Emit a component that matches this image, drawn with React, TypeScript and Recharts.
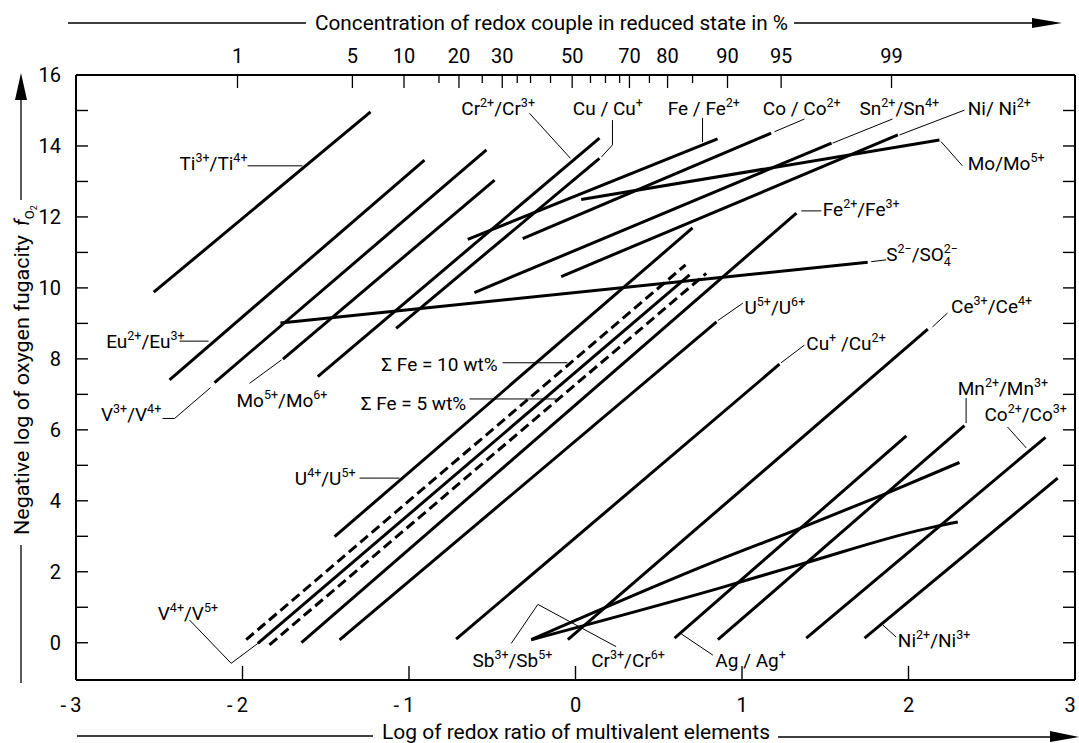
import React from "react";
import { ComposedChart, Line, Scatter, XAxis, YAxis } from "recharts";

const W = 1079;
const H = 743;
const FONT = "Roboto, 'DejaVu Sans', sans-serif";

type Pt = [number, number];
type Couple = { id: string; pts: Pt[]; dashed?: boolean; curved?: boolean };

// x = log of redox ratio, y = negative log fO2
const upperCouples: Couple[] = [
  { id: "Ti", pts: [[-2.533, 9.88], [-1.231, 14.96]] },
  { id: "Eu", pts: [[-2.438, 7.41], [-0.907, 13.6]] },
  { id: "V34", pts: [[-2.168, 7.33], [-0.535, 13.89]] },
  { id: "Mo56", pts: [[-1.757, 7.99], [-0.486, 13.04]] },
  { id: "Cr23", pts: [[-1.548, 7.5], [0.144, 14.22]] },
  { id: "CuCu1", pts: [[-1.077, 8.86], [0.144, 13.65]] },
];

const shallowCouples: Couple[] = [
  { id: "FeFe2", pts: [[-0.647, 11.37], [0.853, 14.2]] },
  { id: "CoCo2", pts: [[-0.317, 11.39], [1.175, 14.36]] },
  { id: "Sn", pts: [[-0.607, 9.87], [1.538, 14.08]] },
  { id: "NiNi2", pts: [[-0.086, 10.32], [1.936, 14.31]] },
  { id: "MoMo5", pts: [[0.034, 12.49], [2.186, 14.17]] },
  { id: "S", pts: [[-1.772, 9.01], [1.755, 10.72]] },
];

const middleCouples: Couple[] = [
  { id: "Fe23", pts: [[-1.646, 0.0], [1.327, 12.11]] },
  { id: "U45", pts: [[-1.447, 2.99], [0.703, 11.69]] },
  { id: "U56", pts: [[-1.417, 0.08], [0.847, 9.04]] },
  { id: "V45", pts: [[-1.908, -0.02], [0.685, 10.37]] },
  { id: "Fe10", pts: [[-1.978, 0.085], [0.661, 10.65]], dashed: true },
  { id: "Fe5", pts: [[-1.838, -0.06], [0.785, 10.41]], dashed: true },
];

const lowerCouples: Couple[] = [
  { id: "Cu12", pts: [[-0.717, 0.1], [1.225, 7.85]] },
  { id: "Ce", pts: [[-0.046, 0.085], [2.116, 8.84]] },
  { id: "Ag", pts: [[0.595, 0.13], [1.987, 5.83]] },
  { id: "Mn", pts: [[0.855, 0.085], [2.336, 6.12]] },
  { id: "Co23", pts: [[1.386, 0.13], [2.823, 5.79]] },
  { id: "Ni23", pts: [[1.736, 0.13], [2.896, 4.64]] },
  { id: "Sb", pts: [[-0.266, 0.085], [0.865, 2.34], [1.325, 3.18], [1.846, 4.17], [2.306, 5.08]], curved: true },
  { id: "Cr36", pts: [[-0.266, 0.085], [0.865, 1.54], [1.345, 2.2], [2.166, 3.28], [2.296, 3.4]], curved: true },
];

const leaders: Pt[][] = [
  [[-1.97, 13.44], [-1.64, 13.44]],
  [[-2.378, 8.5], [-2.204, 8.5]],
  [[-2.48, 6.32], [-2.408, 6.32], [-2.192, 7.19]],
  [[-1.958, 7.31], [-1.766, 7.97]],
  [[-0.276, 14.92], [-0.03, 13.65]],
  [[0.222, 14.73], [0.222, 14.03], [0.156, 13.69]],
  [[0.763, 14.79], [0.763, 14.11]],
  [[1.375, 14.76], [1.195, 14.4]],
  [[1.904, 14.76], [1.544, 14.08]],
  [[2.336, 15.01], [1.946, 14.31]],
  [[2.324, 13.44], [2.196, 14.12]],
  [[1.356, 12.17], [1.476, 12.17]],
  [[1.776, 10.74], [1.866, 10.79]],
  [[1.005, 9.57], [0.855, 9.08]],
  [[1.375, 8.39], [1.235, 7.89]],
  [[2.234, 9.29], [2.144, 8.9]],
  [[2.346, 6.9], [2.346, 6.19]],
  [[2.595, 6.08], [2.707, 5.49]],
  [[1.926, 0.16], [1.846, 0.5]],
  [[0.635, 0.25], [0.825, -0.35]],
  [[-0.386, -0.02], [-0.226, 1.08], [0.244, -0.11]],
  [[-2.318, 0.64], [-2.068, -0.58], [-1.908, -0.02]],
  [[-1.297, 4.64], [-1.057, 4.64]],
  [[-0.438, 7.89], [-0.048, 7.89]],
  [[-0.637, 6.87], [-0.114, 6.87]],
];

const coupleLabels = [
  { text: "Ti^{3+}/Ti^{4+}", x: -1.97, y: 13.32, anchor: "end" },
  { text: "Eu^{2+}/Eu^{3+}", x: -2.348, y: 8.31, anchor: "end" },
  { text: "V^{3+}/V^{4+}", x: -2.488, y: 6.26, anchor: "end" },
  { text: "Mo^{5+}/Mo^{6+}", x: -2.036, y: 6.64, anchor: "start" },
  { text: "Cr^{2+}/Cr^{3+}", x: -0.686, y: 14.87, anchor: "start" },
  { text: "Cu / Cu^{+}", x: -0.016, y: 14.87, anchor: "start" },
  { text: "Fe / Fe^{2+}", x: 0.554, y: 14.87, anchor: "start" },
  { text: "Co / Co^{2+}", x: 1.125, y: 14.87, anchor: "start" },
  { text: "Sn^{2+}/Sn^{4+}", x: 1.706, y: 14.87, anchor: "start" },
  { text: "Ni/ Ni^{2+}", x: 2.356, y: 14.87, anchor: "start" },
  { text: "Mo/Mo^{5+}", x: 2.356, y: 13.32, anchor: "start" },
  { text: "Fe^{2+}/Fe^{3+}", x: 1.485, y: 12.03, anchor: "start" },
  { text: "S^{2\u2212}/SO_{4}^{2\u2212}", x: 1.866, y: 10.76, anchor: "start" },
  { text: "U^{5+}/U^{6+}", x: 1.015, y: 9.27, anchor: "start" },
  { text: "Cu^{+} /Cu^{2+}", x: 1.386, y: 8.25, anchor: "start" },
  { text: "Ce^{3+}/Ce^{4+}", x: 2.256, y: 9.29, anchor: "start" },
  { text: "Mn^{2+}/Mn^{3+}", x: 2.296, y: 6.98, anchor: "start" },
  { text: "Co^{2+}/Co^{3+}", x: 2.456, y: 6.26, anchor: "start" },
  { text: "Ni^{2+}/Ni^{3+}", x: 1.936, y: -0.11, anchor: "start" },
  { text: "Ag / Ag^{+}", x: 0.84, y: -0.68, anchor: "start" },
  { text: "Cr^{3+}/Cr^{6+}", x: 0.094, y: -0.68, anchor: "start" },
  { text: "Sb^{3+}/Sb^{5+}", x: -0.619, y: -0.68, anchor: "start" },
  { text: "V^{4+}/V^{5+}", x: -2.509, y: 0.64, anchor: "start" },
  { text: "U^{4+}/U^{5+}", x: -1.321, y: 4.45, anchor: "end" },
  { text: "\u03a3 Fe = 10 wt%", x: -0.468, y: 7.66, anchor: "end" },
  { text: "\u03a3 Fe = 5 wt%", x: -0.656, y: 6.57, anchor: "end" },
];

const leftTickVals = [0, 1, 2, 3, 4, 5, 6, 7, 8, 9, 10, 11, 12, 13, 14, 15, 16];
const rightTickVals = [0, 1, 2, 3, 4, 5, 6, 7, 8, 9, 10, 11, 12, 13, 14, 15];
const bottomTickVals = [-3, -2, -1, 0, 1, 2, 3];
const topTickPct = [1, 5, 10, 15, 20, 25, 30, 35, 40, 45, 50, 55, 60, 65, 70, 75, 80, 85, 90, 95, 99];
const topTickPos = [-2.03, -1.34, -1.03, -0.82, -0.7, -0.56, -0.44, -0.35, -0.27, -0.15, -0.02, 0.09, 0.18, 0.265, 0.324, 0.444, 0.553, 0.703, 0.913, 1.235, 1.898];
const topTickLabelled = [1, 5, 10, 20, 30, 50, 70, 80, 90, 95, 99];

function RichText({ x, y, text, anchor, size = 19 }: any) {
  const parts = text.split(/(\^\{[^}]*\}|_\{[^}]*\})/).filter((s: string) => s.length > 0);
  let cur = 0;
  const spans = parts.map((p: string, i: number) => {
    let target = 0;
    let fs = size;
    let content = p;
    let dx: number | undefined;
    if (p.startsWith("^{")) {
      target = -8;
      fs = 12.5;
      content = p.slice(2, -1);
      if (i > 0 && parts[i - 1].startsWith("_{")) dx = -(parts[i - 1].length - 3) * fs * 0.58;
    } else if (p.startsWith("_{")) {
      target = 5;
      fs = 12.5;
      content = p.slice(2, -1);
    }
    const el = (
      <tspan key={i} dy={target - cur} dx={dx} fontSize={fs}>
        {content}
      </tspan>
    );
    cur = target;
    return el;
  });
  return (
    <text x={x} y={y} textAnchor={anchor} fontFamily={FONT} fontSize={size} fill="#000">
      {spans}
    </text>
  );
}

function LabelShape(p: any) {
  const d = p.payload ?? p;
  return <RichText x={p.cx} y={p.cy} text={d.text} anchor={d.anchor} />;
}

function LeftTick(p: any) {
  const v = p.payload.value;
  return (
    <g>
      <line x1={p.x} x2={p.x + 12} y1={p.y} y2={p.y} stroke="#000" strokeWidth={1.4} />
      {v % 2 === 0 && (
        <text x={p.x - 15} y={p.y + 7} textAnchor="end" fontSize={20} fontFamily={FONT} fill="#000">
          {v}
        </text>
      )}
    </g>
  );
}

function RightTick(p: any) {
  return <line x1={p.x} x2={p.x - 12} y1={p.y} y2={p.y} stroke="#000" strokeWidth={1.4} />;
}

function BottomTick(p: any) {
  const v = p.payload.value;
  const inner = Math.abs(v) < 3;
  // keep the last label inside the page edge
  const shift = v < 0 ? -5 : v === 3 ? -5 : 0;
  return (
    <g>
      {inner && <line x1={p.x} x2={p.x} y1={p.y} y2={p.y - 14} stroke="#000" strokeWidth={1.4} />}
      <text x={p.x + shift} y={p.y + 32} textAnchor="middle" fontSize={20} fontFamily={FONT} fill="#000">
        {v < 0 ? `-\u2009${-v}` : `${v}`}
      </text>
    </g>
  );
}

function TopTick(p: any) {
  const pct = topTickPct[p.index];
  const major = topTickLabelled.includes(pct);
  return (
    <g>
      <line x1={p.x} x2={p.x} y1={p.y} y2={p.y + (major ? 13 : 8)} stroke="#000" strokeWidth={1.3} />
      {major && (
        <text x={p.x} y={p.y - 12} textAnchor="middle" fontSize={20} fontFamily={FONT} fill="#000">
          {pct}
        </text>
      )}
    </g>
  );
}

const toRows = (pts: Pt[]) => pts.map(([x, y]) => ({ x, y }));

export default function App() {
  const couples = [...upperCouples, ...shallowCouples, ...middleCouples, ...lowerCouples];
  const axisLine = { stroke: "#000", strokeWidth: 2 };
  return (
    <div style={{ position: "absolute", left: 0, top: 0, width: W, height: H, background: "#fff" }}>
      <ComposedChart width={W} height={H} margin={{ top: 45, right: 1, bottom: 33, left: 36 }}>
        <XAxis
          xAxisId="b"
          dataKey="x"
          type="number"
          orientation="bottom"
          domain={[-3, 3]}
          ticks={bottomTickVals}
          interval={0}
          tickSize={0}
          tickMargin={0}
          tickLine={false}
          tick={BottomTick}
          axisLine={axisLine}
          height={30}
          allowDataOverflow
        />
        <XAxis
          xAxisId="t"
          dataKey="x"
          type="number"
          orientation="top"
          domain={[-3, 3]}
          ticks={topTickPos}
          interval={0}
          tickSize={0}
          tickMargin={0}
          tickLine={false}
          tick={TopTick}
          axisLine={axisLine}
          height={30}
          allowDataOverflow
        />
        <YAxis
          yAxisId="l"
          dataKey="y"
          type="number"
          orientation="left"
          domain={[-1.05, 16]}
          ticks={leftTickVals}
          interval={0}
          tickSize={0}
          tickMargin={0}
          tickLine={false}
          tick={LeftTick}
          axisLine={axisLine}
          width={40}
          allowDataOverflow
        />
        <YAxis
          yAxisId="r"
          dataKey="y"
          type="number"
          orientation="right"
          domain={[-1.05, 16]}
          ticks={rightTickVals}
          interval={0}
          tickSize={0}
          tickMargin={0}
          tickLine={false}
          tick={RightTick}
          axisLine={axisLine}
          width={3}
          allowDataOverflow
        />
        {/* invisible copy so the top and right frame axes get drawn */}
        <Line
          xAxisId="t"
          yAxisId="r"
          data={toRows(upperCouples[0].pts)}
          dataKey="y"
          stroke="none"
          dot={false}
          activeDot={false}
          isAnimationActive={false}
        />
        {couples.map((c) => (
          <Line
            key={c.id}
            xAxisId="b"
            yAxisId="l"
            data={toRows(c.pts)}
            dataKey="y"
            type={c.curved ? "monotone" : "linear"}
            stroke="#000"
            strokeWidth={3}
            strokeDasharray={c.dashed ? "10 5" : undefined}
            dot={false}
            activeDot={false}
            isAnimationActive={false}
          />
        ))}
        {leaders.map((l, i) => (
          <Line
            key={`ld${i}`}
            xAxisId="b"
            yAxisId="l"
            data={toRows(l)}
            dataKey="y"
            type="linear"
            stroke="#000"
            strokeWidth={1}
            dot={false}
            activeDot={false}
            isAnimationActive={false}
          />
        ))}
        <Scatter xAxisId="b" yAxisId="l" data={coupleLabels} shape={LabelShape} isAnimationActive={false} />
      </ComposedChart>
      <svg width={W} height={H} style={{ position: "absolute", left: 0, top: 0, pointerEvents: "none" }}>
        <g fontFamily={FONT} fontSize={20} fill="#000">
          <line x1={68} y1={23} x2={306} y2={23} stroke="#000" strokeWidth={1.3} />
          <text x={315} y={30} textLength={473} lengthAdjust="spacingAndGlyphs">
            Concentration of redox couple in reduced state in %
          </text>
          <line x1={794} y1={23} x2={1035} y2={23} stroke="#000" strokeWidth={1.3} />
          <polygon points="1032,18 1032,28 1062,23" fill="#000" />

          <line x1={77} y1={736} x2={373} y2={736} stroke="#000" strokeWidth={1.3} />
          <text x={382} y={739} textLength={388} lengthAdjust="spacingAndGlyphs">
            Log of redox ratio of multivalent elements
          </text>
          <line x1={778} y1={737} x2={1053} y2={737} stroke="#000" strokeWidth={1.3} />
          <polygon points="1050,731 1050,742 1079,737" fill="#000" />

          <line x1={21} y1={545} x2={21} y2={683} stroke="#000" strokeWidth={1.3} />
          <text transform="translate(29,535) rotate(-90)">
            <tspan textLength={300} lengthAdjust="spacingAndGlyphs">Negative log of oxygen fugacity</tspan>
            <tspan dx={9} fontStyle="italic">f</tspan>
            <tspan dy={5} fontSize={13}>O</tspan>
            <tspan dy={3} fontSize={9}>2</tspan>
          </text>
          <line x1={21} y1={200} x2={21} y2={98} stroke="#000" strokeWidth={1.3} />
          <polygon points="15,100 27,100 21,73" fill="#000" />
        </g>
      </svg>
    </div>
  );
}
